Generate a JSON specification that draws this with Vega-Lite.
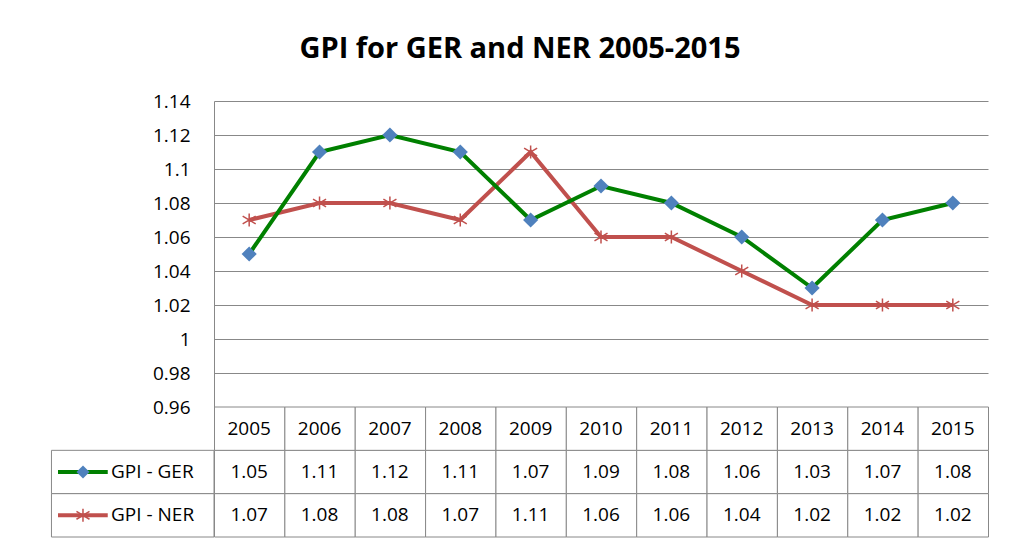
{
  "$schema": "https://vega.github.io/schema/vega-lite/v6.json",
  "padding": {"left": 50, "top": 35, "right": 20, "bottom": 10},
  "background": "white",
  "title": {"text": "GPI for GER and NER 2005-2015", "font": "Open Sans", "fontSize": 29, "fontWeight": "bold", "color": "#000000", "anchor": "middle", "offset": 28},
  "config": {"view": {"stroke": null}, "font": "Open Sans"},
  "spacing": 0,
  "bounds": "flush",
  "data": {"values": [
    {"year": 2005, "series": "GPI - GER", "value": 1.05},
    {"year": 2006, "series": "GPI - GER", "value": 1.11},
    {"year": 2007, "series": "GPI - GER", "value": 1.12},
    {"year": 2008, "series": "GPI - GER", "value": 1.11},
    {"year": 2009, "series": "GPI - GER", "value": 1.07},
    {"year": 2010, "series": "GPI - GER", "value": 1.09},
    {"year": 2011, "series": "GPI - GER", "value": 1.08},
    {"year": 2012, "series": "GPI - GER", "value": 1.06},
    {"year": 2013, "series": "GPI - GER", "value": 1.03},
    {"year": 2014, "series": "GPI - GER", "value": 1.07},
    {"year": 2015, "series": "GPI - GER", "value": 1.08},
    {"year": 2005, "series": "GPI - NER", "value": 1.07},
    {"year": 2006, "series": "GPI - NER", "value": 1.08},
    {"year": 2007, "series": "GPI - NER", "value": 1.08},
    {"year": 2008, "series": "GPI - NER", "value": 1.07},
    {"year": 2009, "series": "GPI - NER", "value": 1.11},
    {"year": 2010, "series": "GPI - NER", "value": 1.06},
    {"year": 2011, "series": "GPI - NER", "value": 1.06},
    {"year": 2012, "series": "GPI - NER", "value": 1.04},
    {"year": 2013, "series": "GPI - NER", "value": 1.02},
    {"year": 2014, "series": "GPI - NER", "value": 1.02},
    {"year": 2015, "series": "GPI - NER", "value": 1.02}
  ]},
  "vconcat": [
    {
      "width": 774,
      "height": 306,
      "encoding": {
        "x": {"field": "year", "type": "quantitative", "scale": {"domain": [2004.5, 2015.5], "nice": false, "zero": false}, "axis": null},
        "y": {"field": "value", "type": "quantitative", "scale": {"domain": [0.96, 1.14], "nice": false, "zero": false},
          "axis": {"title": null, "values": [0.96, 0.98, 1, 1.02, 1.04, 1.06, 1.08, 1.1, 1.12, 1.14], "format": "~g", "ticks": false, "tickSize": 0, "labelPadding": 24, "labelFont": "Open Sans", "labelFontSize": 19, "labelColor": "#000000", "domainColor": "#888888", "domainWidth": 1, "grid": true, "gridColor": "#888888", "gridWidth": 1, "gridOpacity": 1}}
      },
      "layer": [
        {"transform": [{"filter": "datum.series === 'GPI - NER'"}], "mark": {"type": "line", "color": "#C0504D", "strokeWidth": 4}},
        {"transform": [{"filter": "datum.series === 'GPI - NER'"}], "mark": {"type": "point", "shape": "M0,-1L0,1M-1,-0.6L1,0.6M-1,0.6L1,-0.6", "filled": false, "size": 170, "stroke": "#C0504D", "strokeWidth": 1.5, "opacity": 1}},
        {"transform": [{"filter": "datum.series === 'GPI - GER'"}], "mark": {"type": "line", "color": "#008000", "strokeWidth": 4}},
        {"transform": [{"filter": "datum.series === 'GPI - GER'"}], "mark": {"type": "point", "shape": "diamond", "filled": true, "size": 230, "color": "#4F81BD", "opacity": 1}}
      ]
    },
    {
      "width": 774,
      "height": 130,
      "layer": [
        {
          "mark": {"type": "rect", "fill": "white", "stroke": "#888888", "strokeWidth": 1},
          "encoding": {
            "x": {"field": "year", "type": "quantitative", "bin": {"step": 1, "extent": [2004.5, 2015.5], "nice": false}, "scale": {"domain": [2004.5, 2015.5], "nice": false, "zero": false}, "axis": null},
            "y": {"field": "series", "type": "nominal", "scale": {"domain": ["Year", "GPI - GER", "GPI - NER"], "paddingInner": 0, "paddingOuter": 0}, "axis": null}
          }
        },
        {
          "transform": [{"filter": "datum.series === 'GPI - GER'"}],
          "mark": {"type": "rect", "fill": "white", "stroke": "#888888", "strokeWidth": 1},
          "encoding": {
            "x": {"field": "year", "type": "quantitative", "bin": {"step": 1, "extent": [2004.5, 2015.5], "nice": false}},
            "y": {"datum": "Year", "type": "nominal"}
          }
        },
        {
          "mark": {"type": "text", "font": "Open Sans", "fontSize": 19, "color": "#000000"},
          "encoding": {
            "x": {"field": "year", "type": "quantitative"},
            "y": {"field": "series", "type": "nominal"},
            "text": {"field": "value", "type": "quantitative", "format": ".2f"}
          }
        },
        {
          "transform": [{"filter": "datum.series === 'GPI - GER'"}],
          "mark": {"type": "text", "font": "Open Sans", "fontSize": 19, "color": "#000000"},
          "encoding": {
            "x": {"field": "year", "type": "quantitative"},
            "y": {"datum": "Year", "type": "nominal"},
            "text": {"field": "year", "type": "quantitative", "format": "d"}
          }
        },
        {
          "transform": [{"filter": "datum.year === 2005"}],
          "mark": {"type": "rect", "fill": "white", "stroke": "#888888", "strokeWidth": 1},
          "encoding": {
            "x": {"datum": 2002.19, "type": "quantitative"},
            "x2": {"datum": 2004.5},
            "y": {"field": "series", "type": "nominal"}
          }
        },
        {
          "transform": [{"filter": "datum.year === 2005"}],
          "mark": {"type": "text", "font": "Open Sans", "fontSize": 19, "color": "#000000", "align": "left"},
          "encoding": {
            "x": {"datum": 2003.036, "type": "quantitative"},
            "y": {"field": "series", "type": "nominal"},
            "text": {"field": "series", "type": "nominal"}
          }
        },
        {
          "transform": [{"filter": "datum.year === 2005 && datum.series === 'GPI - GER'"}],
          "mark": {"type": "rule", "color": "#008000", "strokeWidth": 4},
          "encoding": {
            "x": {"datum": 2002.283, "type": "quantitative"},
            "x2": {"datum": 2002.99},
            "y": {"field": "series", "type": "nominal"}
          }
        },
        {
          "transform": [{"filter": "datum.year === 2005 && datum.series === 'GPI - NER'"}],
          "mark": {"type": "rule", "color": "#C0504D", "strokeWidth": 4},
          "encoding": {
            "x": {"datum": 2002.283, "type": "quantitative"},
            "x2": {"datum": 2002.99},
            "y": {"field": "series", "type": "nominal"}
          }
        },
        {
          "transform": [{"filter": "datum.year === 2005 && datum.series === 'GPI - GER'"}],
          "mark": {"type": "point", "shape": "diamond", "filled": true, "size": 170, "color": "#4F81BD", "opacity": 1},
          "encoding": {
            "x": {"datum": 2002.638, "type": "quantitative"},
            "y": {"field": "series", "type": "nominal"}
          }
        },
        {
          "transform": [{"filter": "datum.year === 2005 && datum.series === 'GPI - NER'"}],
          "mark": {"type": "point", "shape": "M0,-1L0,1M-1,-0.6L1,0.6M-1,0.6L1,-0.6", "filled": false, "size": 170, "stroke": "#C0504D", "strokeWidth": 1.5, "opacity": 1},
          "encoding": {
            "x": {"datum": 2002.638, "type": "quantitative"},
            "y": {"field": "series", "type": "nominal"}
          }
        }
      ]
    }
  ]
}
